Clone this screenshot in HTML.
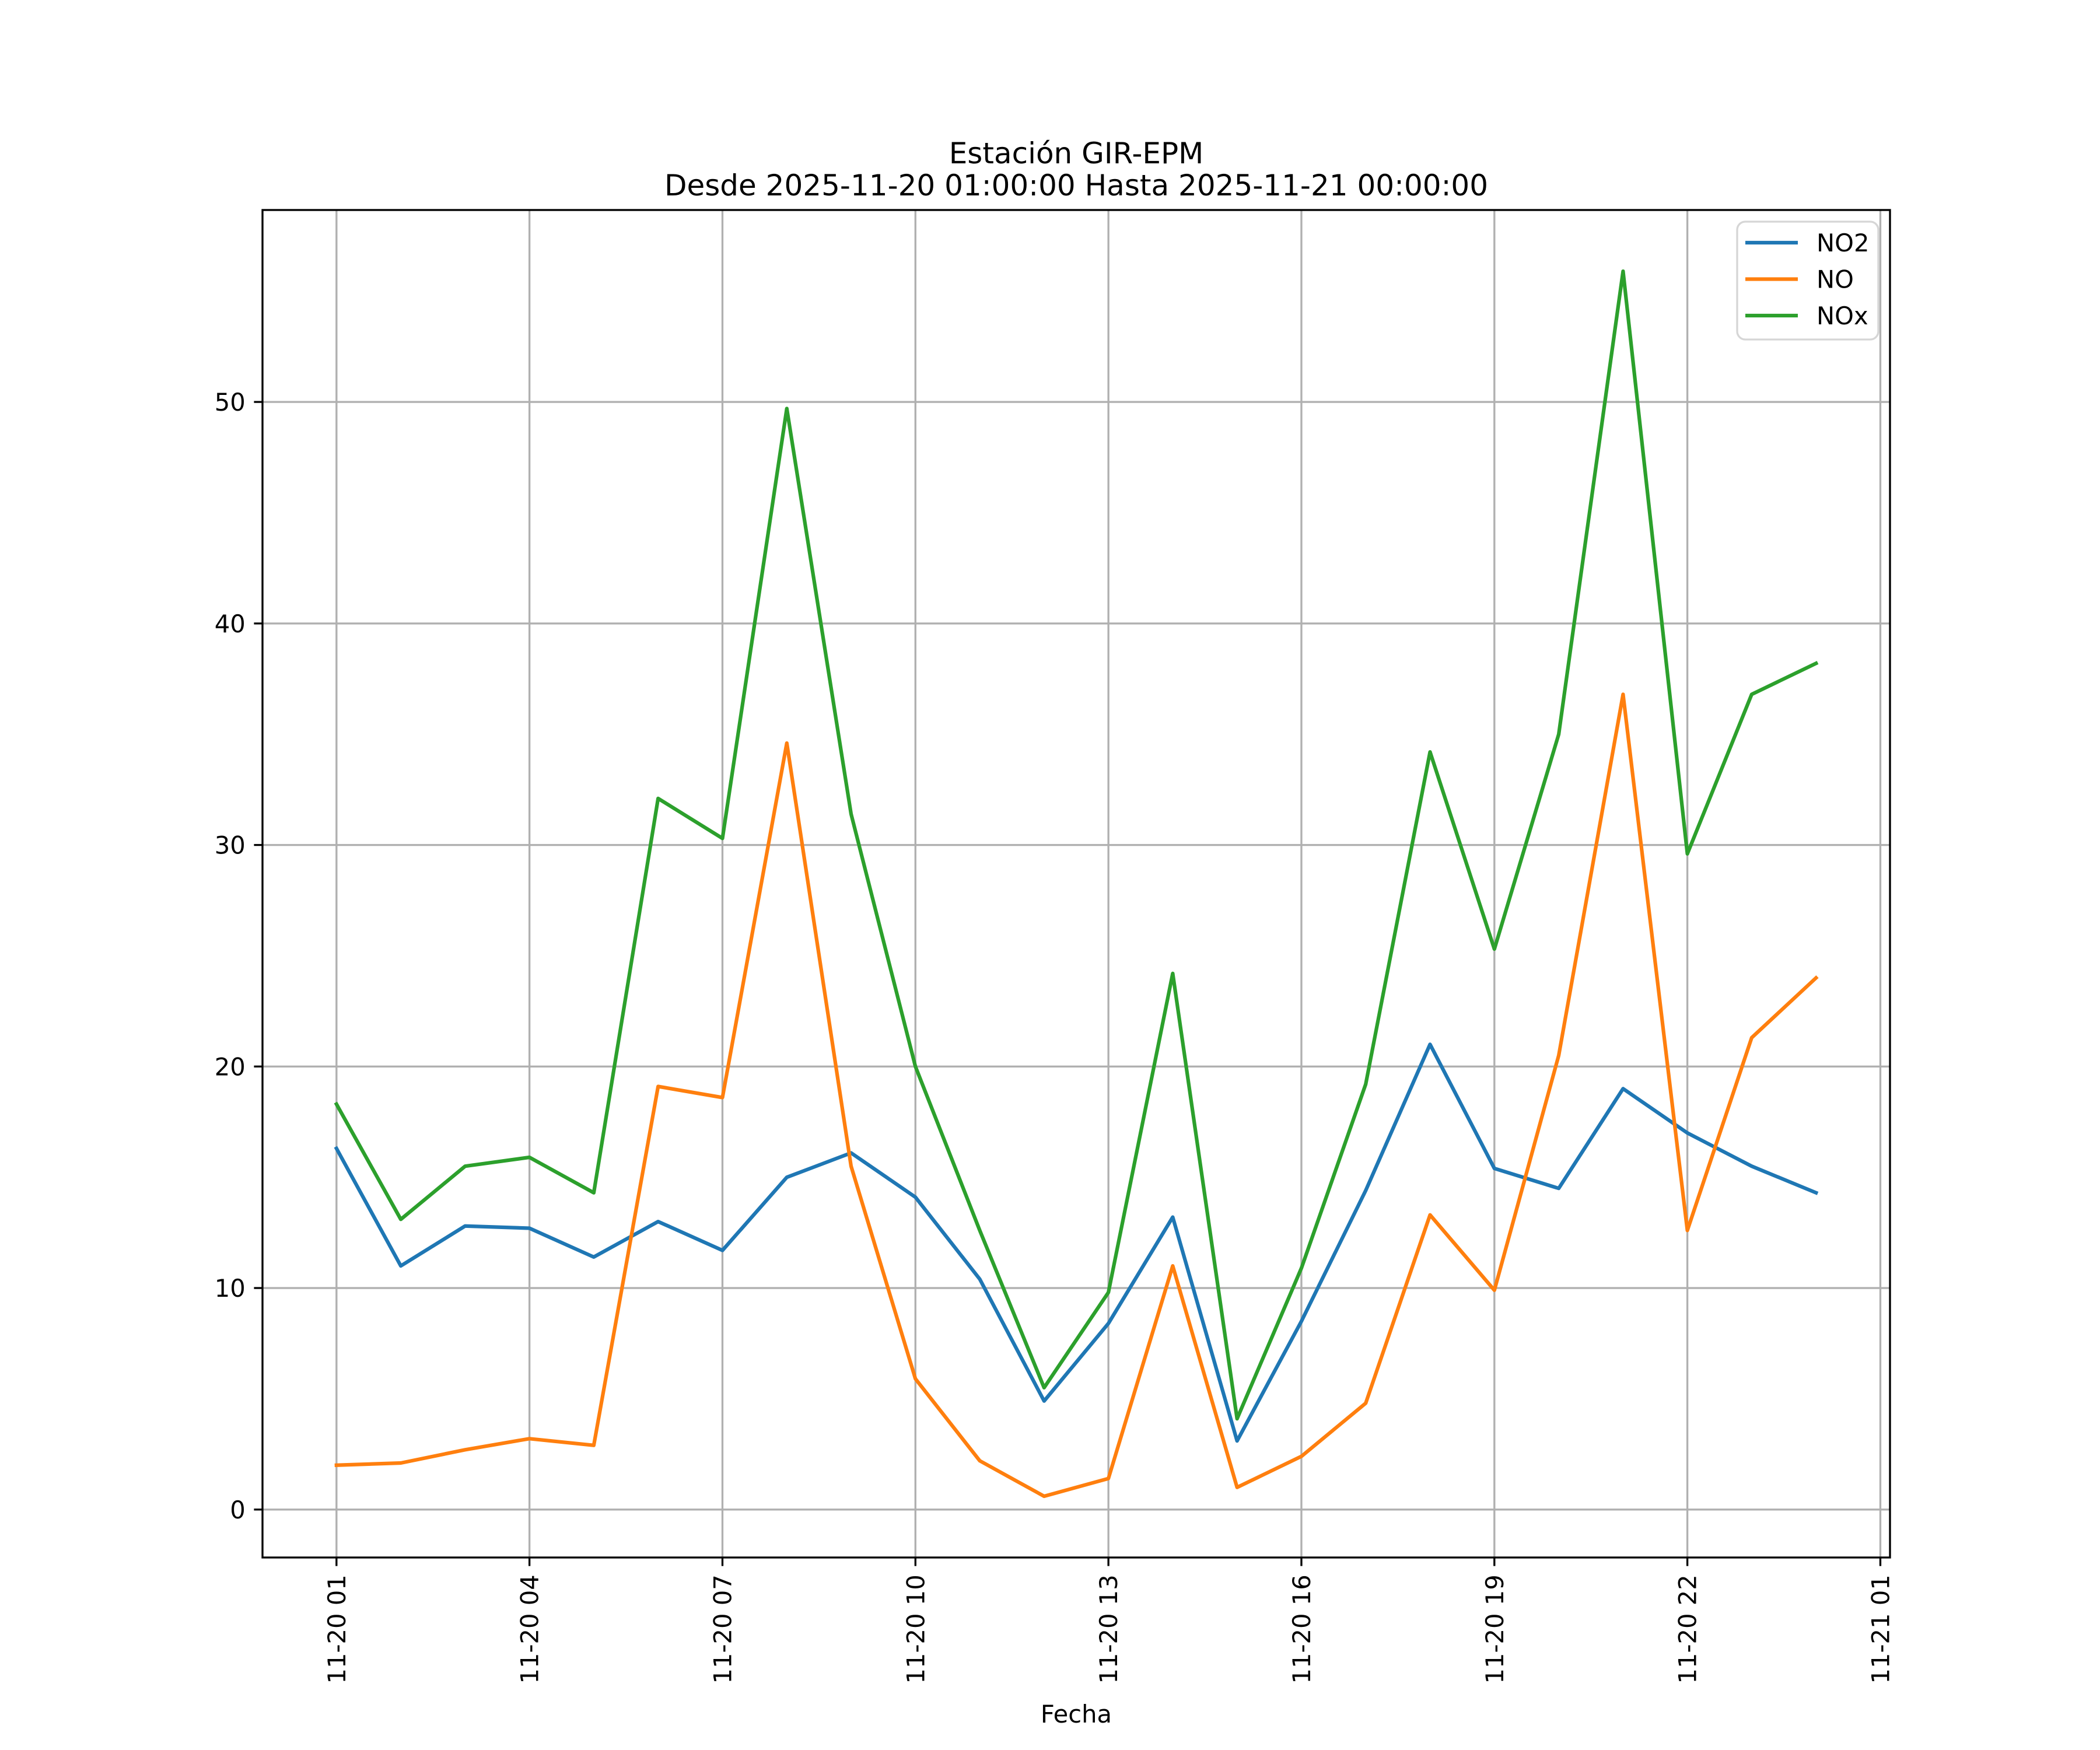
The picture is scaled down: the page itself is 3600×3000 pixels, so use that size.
<!DOCTYPE html>
<html><head><meta charset="utf-8"><style>
html,body{margin:0;padding:0;background:#fff}
svg{display:block;font-family:"DejaVu Sans","Liberation Sans",sans-serif}
</style></head><body>
<svg id="chart" width="3600" height="3000" viewBox="0 0 3600 3000" xmlns="http://www.w3.org/2000/svg">
<rect width="3600" height="3000" fill="#fff"/>
<text x="1845" y="280" font-size="50" text-anchor="middle">Estación GIR-EPM</text>
<text x="1845" y="335" font-size="50" text-anchor="middle">Desde 2025-11-20 01:00:00 Hasta 2025-11-21 00:00:00</text>
<g id="grid"></g>
<g id="series"></g>
<rect x="450" y="360" width="2790" height="2310" fill="none" stroke="#000" stroke-width="3.33"/>
<g id="ticks"></g>
<text x="1845" y="2953" font-size="41.67" text-anchor="middle">Fecha</text>
<g>
<rect x="2978" y="380" width="242" height="202" rx="14" fill="#fff" fill-opacity="0.8" stroke="#d6d6d6" stroke-width="3.33"/>
<g id="legend-items"></g>
</g>
</svg>
<script>
const hours = [1,2,3,4,5,6,7,8,9,10,11,12,13,14,15,16,17,18,19,20,21,22,23,24];
const no2 = [16.3,11.0,12.8,12.7,11.4,13.0,11.7,15.0,16.1,14.1,10.4,4.9,8.4,13.2,3.1,8.5,14.4,21.0,15.4,14.5,19.0,17.0,15.5,14.3];
const no = [2.0,2.1,2.7,3.2,2.9,19.1,18.6,34.6,15.5,5.9,2.2,0.6,1.4,11.0,1.0,2.4,4.8,13.3,9.9,20.5,36.8,12.6,21.3,24.0];
const nox = [18.3,13.1,15.5,15.9,14.3,32.1,30.3,49.7,31.4,20.0,12.6,5.5,9.8,24.2,4.1,10.9,19.2,34.2,25.3,35.0,55.9,29.6,36.8,38.2];
const seriesNames = ["NO2","NO","NOx"];
const seriesColors = ["#1f77b4","#ff7f0e","#2ca02c"];
const xTickHours = [1,4,7,10,13,16,19,22,25];
const xTickLabels = ["11-20 01","11-20 04","11-20 07","11-20 10","11-20 13","11-20 16","11-20 19","11-20 22","11-21 01"];
const yTicks = [0,10,20,30,40,50];

const NS="http://www.w3.org/2000/svg";
const L=450,R=3240,T=360,B=2670;
const all=[...no2,...no,...nox];
const dmin=Math.min(...all),dmax=Math.max(...all),dr=dmax-dmin;
const ymin=dmin-0.05*dr,ymax=dmax+0.05*dr;
const hmin=Math.min(...hours),hmax=Math.max(...hours),hr=hmax-hmin;
const xmin=hmin-0.05*hr,xmax=hmax+0.05*hr;
function xs(h){return L+(h-xmin)/(xmax-xmin)*(R-L);}
function ys(v){return B-(v-ymin)/(ymax-ymin)*(B-T);}
function mk(tag,attrs,parent){const e=document.createElementNS(NS,tag);for(const k in attrs)e.setAttribute(k,attrs[k]);parent.appendChild(e);return e;}
const grid=document.getElementById('grid'),ticks=document.getElementById('ticks');
xTickHours.forEach((h,i)=>{
  const x=xs(h);
  const g=mk('line',{x1:x,x2:x,y1:T,y2:B,stroke:'#b0b0b0','stroke-width':3.33},grid);
  
  
  const t=mk('line',{x1:x,x2:x,y1:B,y2:B+14.6,stroke:'#000','stroke-width':3.33},ticks);
  
  
  const lb=mk('text',{x:0,y:0,'font-size':41.67,'text-anchor':'end',transform:`translate(${x+15},${B+29.2}) rotate(-90)`},ticks);
  lb.textContent=xTickLabels[i];
  
  
});
yTicks.forEach(v=>{
  const y=ys(v);
  const g=mk('line',{x1:L,x2:R,y1:y,y2:y,stroke:'#b0b0b0','stroke-width':3.33},grid);
  
  
  const t=mk('line',{x1:L-14.6,x2:L,y1:y,y2:y,stroke:'#000','stroke-width':3.33},ticks);
  
  
  const lb=mk('text',{x:L-29.2,y:y+15,'font-size':41.67,'text-anchor':'end'},ticks);
  lb.textContent=String(v);
  
  
});
const sg=document.getElementById('series');
[no2,no,nox].forEach((d,i)=>{
  const pts=d.map((v,j)=>xs(hours[j]).toFixed(1)+','+ys(v).toFixed(1)).join(' ');
  const p=mk('polyline',{points:pts,fill:'none',stroke:seriesColors[i],'stroke-width':6.25,'stroke-linejoin':'round','stroke-linecap':'square'},sg);
  
  
});
const lg=document.getElementById('legend-items');
seriesNames.forEach((n,i)=>{
  const y=416+i*62.5;
  const l=mk('line',{x1:2992,x2:3082,y1:y,y2:y,stroke:seriesColors[i],'stroke-width':6.25},lg);
  
  
  const t=mk('text',{x:3114,y:y+15,'font-size':41.67},lg);
  t.textContent=n;
  
  
});
</script>
</body></html>
